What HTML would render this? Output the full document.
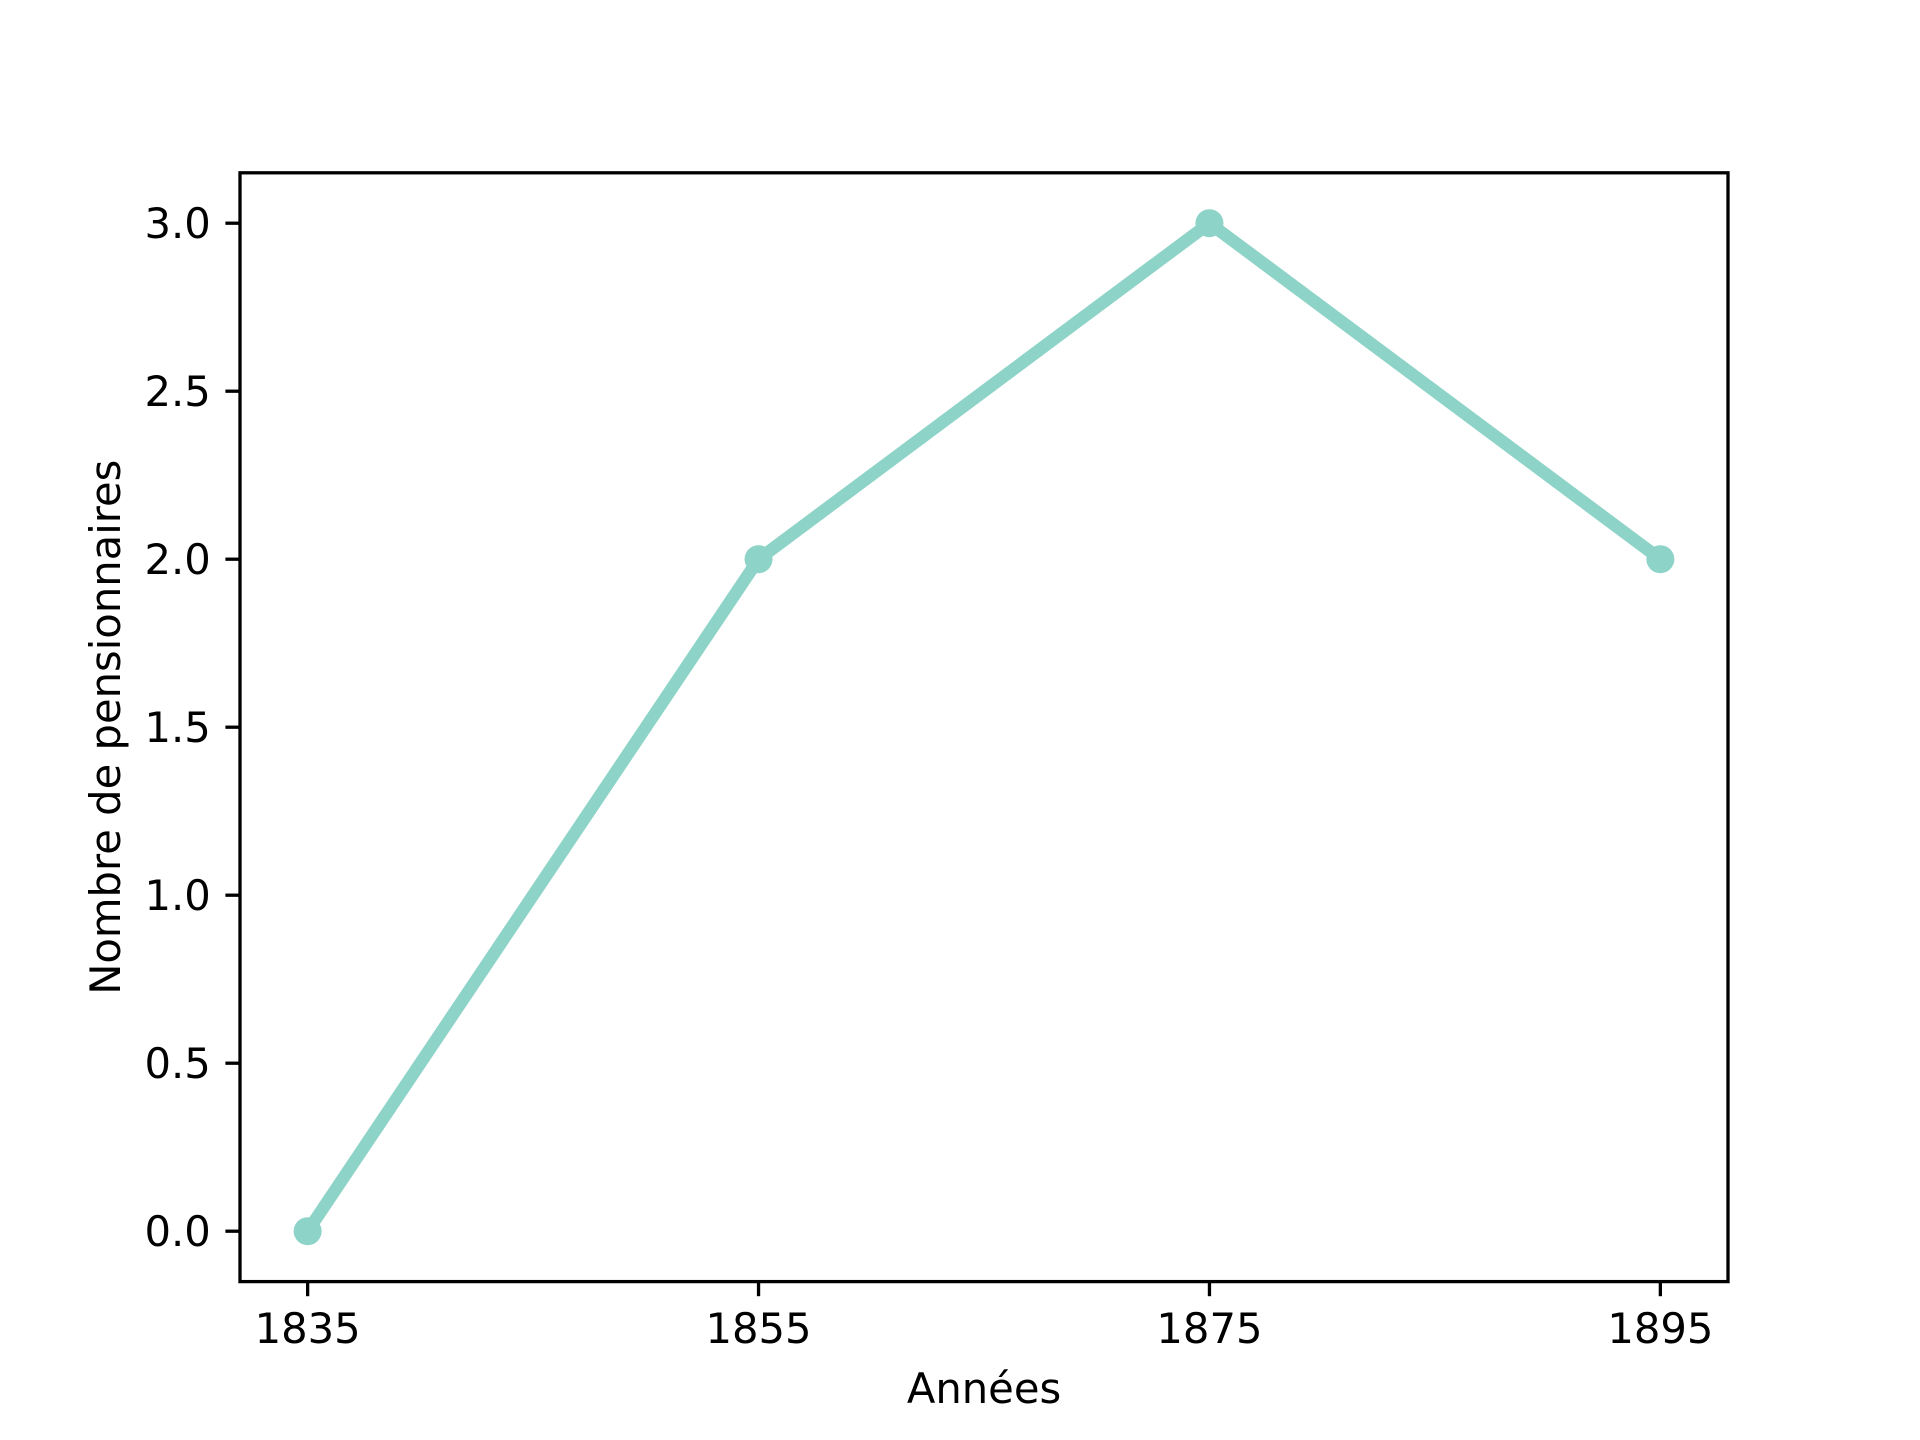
<!DOCTYPE html>
<html><head><meta charset="utf-8"><style>
html,body{margin:0;padding:0;background:#fff;}
svg{display:block;font-family:"DejaVu Sans","Liberation Sans",sans-serif;}
</style></head><body>
<svg id="chart" width="1920" height="1440" viewBox="0 0 1920 1440">
<rect width="1920" height="1440" fill="#fff"/>
<g id="plot"></g>
</svg>
<script>
const years = [1835, 1855, 1875, 1895];
const values = [0, 2, 3, 2];
const xTicks = [1835, 1855, 1875, 1895];
const yTicks = [0.0, 0.5, 1.0, 1.5, 2.0, 2.5, 3.0];
const yTickLabels = ["0.0", "0.5", "1.0", "1.5", "2.0", "2.5", "3.0"];

const L = 240, R = 1728, T = 172.8, B = 1281.6;
const xmin = Math.min(...years), xmax = Math.max(...years);
const xpad = (xmax - xmin) * 0.05;
const ymin = Math.min(...values), ymax = Math.max(...values);
const ypad = (ymax - ymin) * 0.05;
function xs(v){ return L + (v - (xmin - xpad)) / ((xmax + xpad) - (xmin - xpad)) * (R - L); }
function ys(v){ return B - (v - (ymin - ypad)) / ((ymax + ypad) - (ymin - ypad)) * (B - T); }

const NS = "http://www.w3.org/2000/svg";
const g = document.getElementById('plot');
function mk(tag, attrs, parent){ const e = document.createElementNS(NS, tag); for (const k in attrs) e.setAttribute(k, attrs[k]); (parent||g).appendChild(e); return e; }

const pts = years.map((y,i)=> xs(y)+","+ys(values[i])).join(" ");
const line = mk('polyline', {points: pts, fill: 'none', stroke: '#8dd3c7', 'stroke-width': 12.5, 'stroke-linejoin': 'round', 'stroke-linecap': 'square'});


years.forEach((y,i)=>{
  const c = mk('circle', {cx: xs(y), cy: ys(values[i]), r: 14, fill: '#8dd3c7'});
  
  
});

const fr = mk('rect', {x: L, y: T, width: R-L, height: B-T, fill: 'none', stroke: '#000', 'stroke-width': 3.3});



xTicks.forEach(v=>{
  const x = xs(v);
  const t = mk('line', {x1: x, x2: x, y1: B, y2: B+14.6, stroke: '#000', 'stroke-width': 3.3});
  
  
  const tx = mk('text', {x: x, y: B+14.6+14.6+32, 'font-size': 41.7, 'text-anchor': 'middle', fill: '#000'});
  tx.textContent = String(v);
  
  
});
yTicks.forEach((v,i)=>{
  const y = ys(v);
  const t = mk('line', {x1: L-14.6, x2: L, y1: y, y2: y, stroke: '#000', 'stroke-width': 3.3});
  
  
  const tx = mk('text', {x: L-14.6-14.6, y: y+15, 'font-size': 41.7, 'text-anchor': 'end', fill: '#000'});
  tx.textContent = yTickLabels[i];
  
  
});
const xl = mk('text', {x: (L+R)/2, y: 1403, 'font-size': 41.7, 'text-anchor': 'middle', fill: '#000'});
xl.textContent = 'Années';


const yl = mk('text', {x: 0, y: 0, 'font-size': 41.7, 'text-anchor': 'middle', fill: '#000', transform: 'translate(120,' + ((T+B)/2) + ') rotate(-90)'});
yl.textContent = 'Nombre de pensionnaires';


</script>
</body></html>
